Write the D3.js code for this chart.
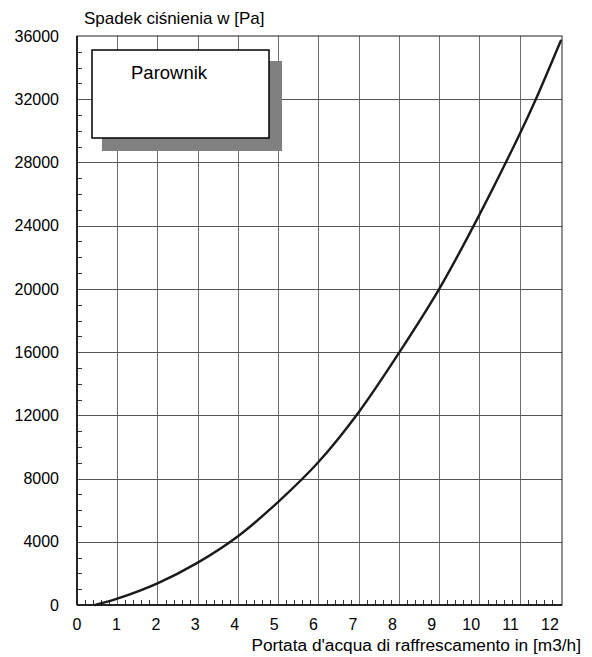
<!DOCTYPE html>
<html>
<head>
<meta charset="utf-8">
<script src="https://cdn.jsdelivr.net/npm/d3@7"></script>
<style>
  html, body { margin: 0; padding: 0; background: #fff; }
  svg { display: block; font-family: "Liberation Sans", Arial, sans-serif; }
</style>
</head>
<body>
<script>
// ---- data ----
const flowValues = [0.45, 1, 2, 3, 4, 5, 6, 7, 8, 9, 10, 11, 11.4, 12.02];
const pressureValues = [0, 400, 1370, 2680, 4350, 6530, 9050, 12200, 15950, 20000, 24700, 29800, 32000, 35700];
const xTickValues = [0, 1, 2, 3, 4, 5, 6, 7, 8, 9, 10, 11, 12];
const yTickValues = [0, 4000, 8000, 12000, 16000, 20000, 24000, 28000, 32000, 36000];
const titleText = "Spadek ciśnienia w [Pa]";
const xAxisTitle = "Portata d'acqua di raffrescamento in [m3/h]";
const legendText = "Parownik";

const W = 592, H = 657;
const svg = d3.select("body").append("svg").attr("width", W).attr("height", H);

const x = d3.scaleLinear().domain([0, 12.05]).range([77, 562]);
const xLab = d3.scaleLinear().domain([0, 12]).range([77, 550]);
const y = d3.scaleLinear().domain([0, 36000]).range([605, 36]);

const data = flowValues.map((f, i) => ({ f, p: pressureValues[i] }));

// gridlines
const g = svg.append("g");
g.selectAll("line.vg").data(xTickValues.filter(d => d > 0 && d < 12)).join("line")
  .attr("x1", d => Math.round(x(d)) + 0.5).attr("x2", d => Math.round(x(d)) + 0.5)
  .attr("y1", y(36000)).attr("y2", y(0))
  .attr("stroke", "#6e6e6e").attr("stroke-width", 1);
g.selectAll("line.hg").data(yTickValues.filter(d => d > 0 && d < 36000)).join("line")
  .attr("x1", x(0)).attr("x2", x(12.05))
  .attr("y1", d => Math.round(y(d)) + 0.5).attr("y2", d => Math.round(y(d)) + 0.5)
  .attr("stroke", "#555").attr("stroke-width", 1);

// minor ticks
const xMinor = d3.range(1, 60).map(i => i / 5).filter(v => Math.abs(v - Math.round(v)) > 1e-6);
g.selectAll("line.xm").data(xMinor).join("line")
  .attr("x1", d => Math.round(x(d)) + 0.5).attr("x2", d => Math.round(x(d)) + 0.5)
  .attr("y1", y(0)).attr("y2", y(0) - 5)
  .attr("stroke", "#333").attr("stroke-width", 1);
const yMinor = d3.range(1, 36).map(i => i * 1000).filter(v => v % 4000 !== 0);
g.selectAll("line.ym").data(yMinor).join("line")
  .attr("x1", x(0)).attr("x2", x(0) + 5)
  .attr("y1", d => Math.round(y(d)) + 0.5).attr("y2", d => Math.round(y(d)) + 0.5)
  .attr("stroke", "#333").attr("stroke-width", 1);

// frame
svg.append("rect")
  .attr("x", x(0)).attr("y", y(36000))
  .attr("width", x(12.05) - x(0)).attr("height", y(0) - y(36000))
  .attr("fill", "none").attr("stroke", "#222").attr("stroke-width", 1);
svg.append("line").attr("x1", x(0)).attr("x2", x(0)).attr("y1", y(36000)).attr("y2", y(0))
  .attr("stroke", "#000").attr("stroke-width", 1.5);
svg.append("line").attr("x1", x(0)).attr("x2", x(12.05)).attr("y1", y(0)).attr("y2", y(0))
  .attr("stroke", "#000").attr("stroke-width", 1.5);

// tick labels
svg.append("g").selectAll("text").data(yTickValues).join("text")
  .attr("x", 59).attr("y", d => y(d) + 5.7)
  .attr("text-anchor", "end").attr("font-size", 16).attr("fill", "#000")
  .text(d => d);
svg.append("g").selectAll("text").data(xTickValues).join("text")
  .attr("x", d => xLab(d)).attr("y", 630)
  .attr("text-anchor", "middle").attr("font-size", 16).attr("fill", "#000")
  .text(d => d);

// titles
svg.append("text").attr("x", 84).attr("y", 24).attr("font-size", 17).attr("fill", "#000").text(titleText);
svg.append("text").attr("x", 581).attr("y", 651).attr("text-anchor", "end")
  .attr("font-size", 17.3).attr("fill", "#000").text(xAxisTitle);

// legend box
svg.append("rect").attr("x", 102).attr("y", 61).attr("width", 180).attr("height", 90).attr("fill", "#808080");
svg.append("rect").attr("x", 92).attr("y", 50).attr("width", 177).attr("height", 88)
  .attr("fill", "#fff").attr("stroke", "#000").attr("stroke-width", 1.5);
svg.append("text").attr("x", 131).attr("y", 79).attr("font-size", 18.5).attr("fill", "#000").text(legendText);

// curve
const line = d3.line().x(d => x(d.f)).y(d => y(d.p)).curve(d3.curveCatmullRom.alpha(0.5));
svg.append("path").datum(data).attr("d", line)
  .attr("fill", "none").attr("stroke", "#1a1a1a").attr("stroke-width", 2.4)
  .attr("stroke-linejoin", "round").attr("stroke-linecap", "round");
</script>
</body>
</html>
